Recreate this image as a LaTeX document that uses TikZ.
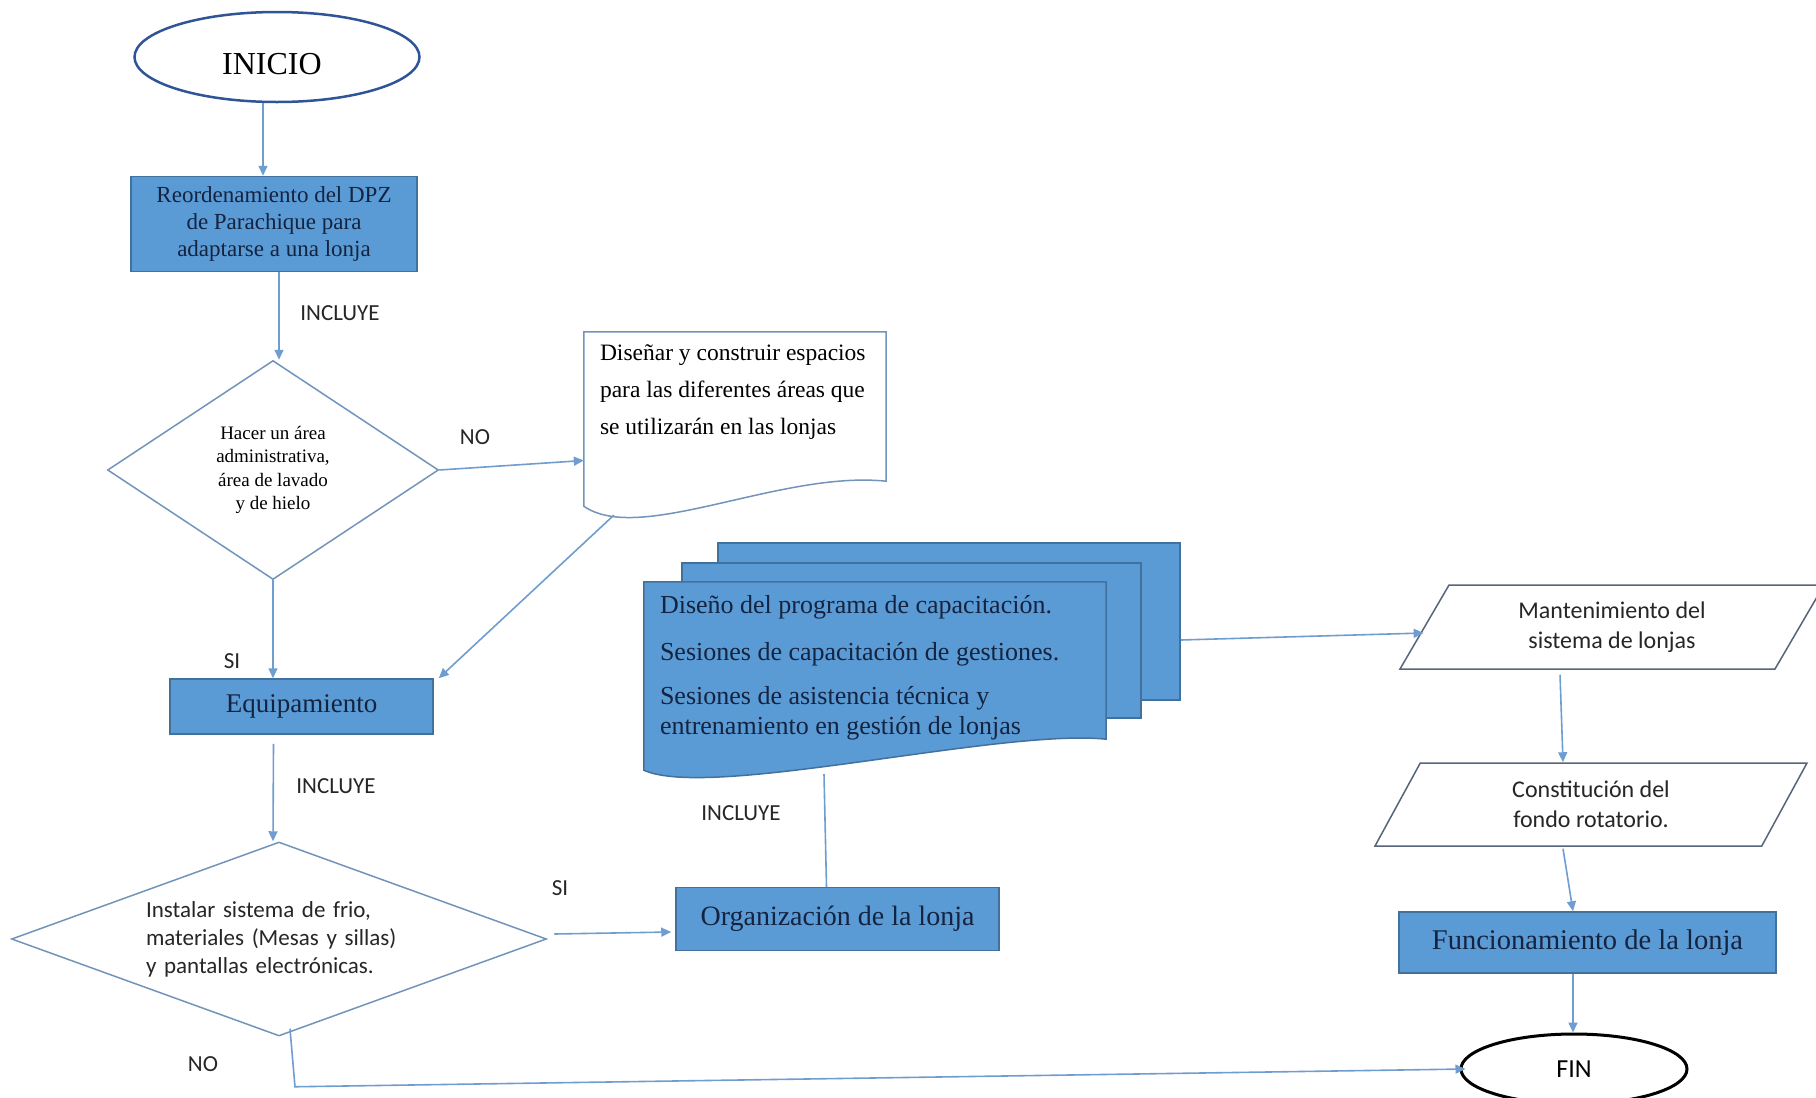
\documentclass[tikz,border=0pt]{standalone}
\usepackage{fontspec}
\setmainfont{Liberation Serif}
\newfontfamily\calibrifont{Carlito}
\usetikzlibrary{shapes.geometric,arrows.meta}
\definecolor{boxblue}{HTML}{5B9BD5}
\definecolor{boxedge}{HTML}{41719C}
\definecolor{arrowblue}{HTML}{6F9DD0}
\definecolor{inkblue}{HTML}{2F5597}
\definecolor{rhombedge}{HTML}{7394BA}
\definecolor{slantedge}{HTML}{56657A}
\definecolor{navytext}{HTML}{14233F}
\begin{document}
\begin{tikzpicture}[
  x=1pt, y=-1pt,
  arr/.style={draw=arrowblue, line width=1.6pt, -{Triangle[length=10pt,width=9pt]}},
  conn/.style={draw=arrowblue, line width=1.6pt},
  bluebox/.style={rectangle, draw=boxedge, fill=boxblue, line width=1.5pt, text=navytext, inner sep=0pt},
  rhomb/.style={diamond, draw=rhombedge, fill=white, line width=1.5pt, inner sep=0pt},
  slanted/.style={trapezium, trapezium left angle=46, trapezium right angle=134,
    trapezium stretches body, draw=slantedge, fill=white, line width=1.5pt, inner sep=0pt,
    align=center, text=black!85, font=\calibrifont\fontsize{24}{30}\selectfont},
  frame/.style={rectangle, inner sep=0pt},
  docline/.style={draw=rhombedge, fill=white, line width=1.5pt},
  stackline/.style={draw=boxedge, fill=boxblue, line width=1.5pt},
  lbl/.style={font=\calibrifont\fontsize{23}{26}\selectfont, text=black!85, inner sep=0pt}
]
\useasboundingbox (0,0) rectangle (1816,1098);

% left column
\node[ellipse, draw=inkblue, line width=2.5pt, minimum width=285pt, minimum height=90pt,
  text height=35pt, text depth=0pt,
  font=\fontsize{32}{36}\selectfont] (inicio) at (277,57) {INICIO\hspace*{10pt}};
\node[bluebox, minimum width=286pt, minimum height=95pt, align=center,
  font=\fontsize{23}{27}\selectfont] (reorden) at (274,224)
  {Reordenamiento del DPZ\\de Parachique para\\adaptarse a una lonja};
\node[rhomb, shape aspect=1.5, minimum width=331pt, minimum height=219pt, align=center,
  font=\fontsize{19}{23.5}\selectfont] (hacer) at (273,470)
  {Hacer un área\\administrativa,\\área de lavado\\y de hielo};
\node[bluebox, minimum width=263pt, minimum height=55pt,
  font=\fontsize{27}{30}\selectfont] (equipo) at (301.5,706.5) {Equipamiento};
\node[rhomb, shape aspect=2.76, minimum width=535pt, minimum height=194pt, align=left,
  text width=266pt, text=black!85, font=\calibrifont\fontsize{23}{28}\selectfont] (instalar) at (279,939)
  {\makebox[244pt][s]{Instalar sistema de frio,}\\materiales (Mesas y sillas)\\y pantallas electrónicas.};

% document
\node[frame, minimum width=302pt, minimum height=183pt] (disframe) at (735,423.5) {};
\draw[docline] (disframe.north west) -- (disframe.north east) -- ([yshift=34pt]disframe.south east)
  .. controls ([xshift=-106pt,yshift=45pt]disframe.south east) and ([xshift=56pt,yshift=-30pt]disframe.south west)
  .. ([yshift=9pt]disframe.south west) -- cycle;
\node[anchor=north west, inner sep=0pt, align=left, font=\fontsize{23.5}{37}\selectfont] (disenar)
  at ([xshift=16pt,yshift=-13pt]disframe.north west)
  {Diseñar y construir espacios\\para las diferentes áreas que\\se utilizarán en las lonjas};

% stacked documents
\node[frame, stackline, minimum width=462pt, minimum height=157pt] (capback) at (949,621.5) {};
\node[frame, stackline, minimum width=459pt, minimum height=155pt] (capmid) at (911.5,640.5) {};
\node[frame, minimum width=462pt, minimum height=192pt] (capframe) at (875,678) {};
\draw[stackline] (capframe.north west) -- (capframe.north east) -- ([yshift=35pt]capframe.south east)
  .. controls ([xshift=-106pt,yshift=46pt]capframe.south east) and ([xshift=66pt,yshift=-26pt]capframe.south west)
  .. ([yshift=4pt]capframe.south west) -- cycle;
\node[anchor=north west, inner sep=0pt, align=left, text=navytext, font=\fontsize{26}{30}\selectfont] (capacita)
  at ([xshift=16pt,yshift=-13pt]capframe.north west)
  {Diseño del programa de capacitación.\\[17pt]Sesiones de capacitación de gestiones.\\[14pt]Sesiones de asistencia técnica y\\entrenamiento en gestión de lonjas};

\node[bluebox, minimum width=323pt, minimum height=63pt,
  font=\fontsize{28}{32}\selectfont] (organiza) at (837.5,919) {Organización de la lonja};

% right column
\node[slanted, minimum width=424pt, minimum height=84pt] (mant) at (1612,627)
  {Mantenimiento del\\sistema de lonjas};
\node[slanted, minimum width=432pt, minimum height=83pt] (fondo) at (1591,804.5)
  {Constitución del\\fondo rotatorio.};
\node[bluebox, minimum width=377pt, minimum height=61pt,
  font=\fontsize{28.5}{32}\selectfont] (funciona) at (1587.5,942.5) {Funcionamiento de la lonja};
\node[ellipse, draw=black, line width=3pt, minimum width=226pt, minimum height=70pt,
  font=\calibrifont\fontsize{26}{30}\selectfont] (fin) at (1574,1069) {FIN};

% labels
\node[lbl] (inclA) at (340,313) {INCLUYE};
\node[lbl] (noA) at (475,437) {NO};
\node[lbl] (siA) at (232,661) {SI};
\node[lbl] (inclB) at (336,786) {INCLUYE};
\node[lbl] (siB) at (560,888) {SI};
\node[lbl] (inclC) at (741,813) {INCLUYE};
\node[lbl] (noB) at (203,1064) {NO};

% connectors
\draw[arr] ([xshift=-14pt]inicio.south) -- ([xshift=-11pt]reorden.north);
\draw[arr] ([xshift=5pt]reorden.south) -- ([xshift=6pt]hacer.north);
\draw[arr] (hacer.east) -- ([yshift=-37pt]disframe.west);
\draw[arr] ([xshift=30pt]disframe.south west) -- ([xshift=5pt]equipo.north east);
\draw[arr] (hacer.south) -- (hacer.south |- equipo.north);
\draw[arr] ([xshift=-28pt,yshift=-9pt]equipo.south) -- ([xshift=-6pt]instalar.north);
\draw[arr] ([xshift=7pt,yshift=5pt]instalar.east) -- ([xshift=-4pt,yshift=-13pt]organiza.west);
\draw[conn] ([xshift=-51pt]capframe.south) -- ([xshift=-11pt]organiza.north);
\draw[arr] ([yshift=-18.5pt]capback.east) -- ([yshift=-6pt]mant.west);
\draw[arr] ([xshift=-52pt,yshift=-5pt]mant.south) -- ([xshift=-28pt]fondo.north);
\draw[arr] ([xshift=-28pt,yshift=-2pt]fondo.south) -- ([xshift=-14.5pt]funciona.north);
\draw[arr] ([xshift=-14.5pt]funciona.south) -- ([xshift=-1pt]fin.north);
\draw[arr] ([xshift=11pt,yshift=8pt]instalar.south) -- ([xshift=16pt,yshift=-50pt]instalar.south)
  -- ([xshift=6pt]fin.west);
\end{tikzpicture}
\end{document}
